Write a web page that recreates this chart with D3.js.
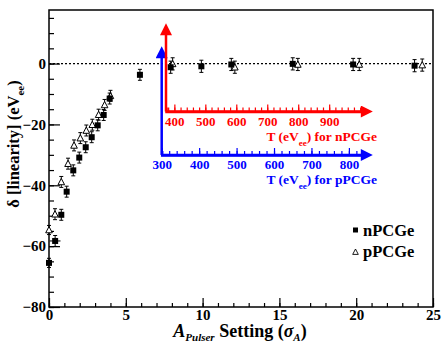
<!DOCTYPE html>
<html>
<head>
<meta charset="utf-8">
<script src="https://cdn.jsdelivr.net/npm/d3@7"></script>
<style>
  body { margin: 0; background: #fff; }
  svg { font-family: "Liberation Serif", "Times New Roman", serif; font-weight: bold; }
</style>
</head>
<body>
<svg id="chart" width="447" height="346"></svg>
<script>
// nPCGe (filled squares)
const nX = [0, 0.4, 0.8, 1.15, 1.58, 1.97, 2.39, 2.78, 3.17, 3.56, 3.95, 5.92, 7.92, 9.92, 11.87, 15.87, 19.8, 23.8];
const nY = [-65.5, -58.3, -49.7, -42.1, -35.1, -30.9, -27.5, -24.2, -20.3, -16.9, -11.5, -3.7, -1.2, -0.9, -0.3, -0.1, -0.3, -0.7];
const nErr = [1.5, 1.8, 1.8, 1.8, 1.8, 1.8, 1.8, 1.8, 1.8, 1.8, 1.8, 1.8, 2, 2, 2, 2, 2, 2];
const nXErr = [0.1, 0.35, 0.15, 0.1, 0.1, 0.1, 0.1, 0.1, 0.1, 0.1, 0.1, 0.1, 0.15, 0.1, 0.15, 0.15, 0.15, 0.15];

// pPCGe (open triangles)
const pX = [0, 0.39, 0.8, 1.24, 1.63, 2.04, 2.43, 2.82, 3.23, 3.62, 4.0, 8.05, 12.1, 16.2, 20.2, 24.3];
const pY = [-54.7, -49.5, -38.9, -32.9, -26.9, -24.5, -22.0, -20.1, -16.8, -13.6, -10.6, -0.1, -1.2, -0.3, -0.3, -0.5];
const pErr = [1.5, 1.8, 1.8, 1.8, 1.8, 1.8, 1.8, 1.8, 1.8, 1.8, 1.8, 2, 2, 2, 2, 2];

const xTicks = [0, 5, 10, 15, 20, 25];
const yTicks = [-80, -60, -40, -20, 0];
const redTicks = [400, 500, 600, 700, 800, 900];
const blueTicks = [300, 400, 500, 600, 700, 800];

const svg = d3.select("#chart");
const margin = { top: 10, right: 14, bottom: 39, left: 49 };
const W = 447 - margin.left - margin.right;
const H = 346 - margin.top - margin.bottom;

const x = d3.scaleLinear().domain([0, 25]).range([0, W]);
const y = d3.scaleLinear().domain([-80, 17.6]).range([H, 0]);

const g = svg.append("g").attr("transform", `translate(${margin.left},${margin.top})`);

// frame
g.append("rect").attr("width", W).attr("height", H)
  .attr("fill", "none").attr("stroke", "#000").attr("stroke-width", 1.5);

// x axis: ticks pointing inward
const xMinor = d3.range(0, 25.01, 1);
g.append("g").attr("transform", `translate(0,${H})`)
  .call(d3.axisBottom(x).tickValues(xMinor).tickSize(-4).tickFormat(""))
  .call(a => a.select(".domain").remove());
g.append("g").attr("transform", `translate(0,${H})`)
  .call(d3.axisBottom(x).tickValues(xTicks).tickSize(-9).tickPadding(2).tickFormat(d3.format("d")))
  .call(a => a.select(".domain").remove())
  .call(a => a.selectAll("text").attr("font-size", 15).attr("font-family", "Liberation Serif").attr("font-weight", "bold"));

// y axis
const yMinor = d3.range(-80, 17, 5);
g.append("g")
  .call(d3.axisLeft(y).tickValues(yMinor).tickSize(-5).tickFormat(""))
  .call(a => a.select(".domain").remove());
g.append("g")
  .call(d3.axisLeft(y).tickValues(yTicks).tickSize(-11).tickPadding(3).tickFormat(d3.format("d")))
  .call(a => a.select(".domain").remove())
  .call(a => a.selectAll("text").attr("font-size", 15).attr("font-family", "Liberation Serif").attr("font-weight", "bold"));
g.selectAll(".tick line").attr("stroke-width", 1.2);

// zero line
g.append("line")
  .attr("x1", x(0)).attr("x2", x(25)).attr("y1", y(0)).attr("y2", y(0))
  .attr("stroke", "#000").attr("stroke-dasharray", "2,2").attr("stroke-width", 1.2);

// inset energy axes
svg.append("defs").selectAll("marker")
  .data([["red", "#ff0000"], ["blue", "#0000ff"]])
  .join("marker")
  .attr("id", d => "arr-" + d[0])
  .attr("viewBox", "0 0 10 10").attr("refX", 1).attr("refY", 5)
  .attr("markerWidth", 14).attr("markerHeight", 12)
  .attr("markerUnits", "userSpaceOnUse")
  .attr("orient", "auto")
  .append("path").attr("d", "M0,0L10,5L0,10Z").attr("fill", d => d[1]);

function energyAxis(scale, ticks, yPos, topY, color, name, key) {
  const [x0, x1] = scale.range();
  const ax = svg.append("g").attr("transform", `translate(0,${yPos})`);
  const minor = d3.range(Math.ceil(scale.domain()[0] / 20) * 20, scale.domain()[1], 20);
  ax.call(d3.axisBottom(scale).tickValues(minor).tickSize(-4).tickFormat(""));
  ax.append("g").call(d3.axisBottom(scale).tickValues(ticks).tickSize(-7).tickPadding(5).tickFormat(d3.format("d")))
    .call(a => a.select(".domain").remove());
  ax.selectAll(".domain").attr("stroke", color).attr("stroke-width", 2.5);
  ax.selectAll(".tick line").attr("stroke", color).attr("stroke-width", 1.2);
  ax.selectAll("text").attr("fill", color).attr("font-size", 13)
    .attr("font-family", "Liberation Serif").attr("font-weight", "bold");
  // horizontal arrow
  svg.append("line").attr("x1", x0).attr("x2", x1).attr("y1", yPos).attr("y2", yPos)
    .attr("stroke", color).attr("stroke-width", 2.5).attr("marker-end", `url(#arr-${key})`);
  // vertical arrow
  svg.append("line").attr("x1", x0).attr("x2", x0).attr("y1", yPos).attr("y2", topY + 12)
    .attr("stroke", color).attr("stroke-width", 2.5).attr("marker-end", `url(#arr-${key})`);
  // title
  const t = svg.append("text").attr("x", x1 + 15).attr("y", yPos + 29)
    .attr("text-anchor", "end").attr("fill", color).attr("font-size", 13.5);
  t.append("tspan").text("T (eV");
  t.append("tspan").text("ee").attr("font-size", 9).attr("dy", 5);
  t.append("tspan").text(") for " + name).attr("dy", -5);
}

const redScale = d3.scaleLinear().domain([373, 1006]).range([166, 362]);
const blueScale = d3.scaleLinear().domain([300, 835]).range([161.7, 362]);
energyAxis(blueScale, blueTicks, 155, 45, "#0000ff", "pPCGe", "blue");
energyAxis(redScale, redTicks, 111.5, 22, "#ff0000", "nPCGe", "red");

// data points with error bars
function drawSeries(xs, ys, errs, xerrs, kind) {
  const pts = xs.map((v, i) => ({ x: v, y: ys[i], e: errs[i], xe: xerrs ? xerrs[i] : 0 }));
  const s = g.append("g");
  s.selectAll("line.ey").data(pts).join("line").attr("class", "ey")
    .attr("x1", d => x(d.x)).attr("x2", d => x(d.x))
    .attr("y1", d => y(d.y - d.e)).attr("y2", d => y(d.y + d.e))
    .attr("stroke", "#000").attr("stroke-width", 1);
  s.selectAll("line.cap").data(pts.flatMap(d => [[d, d.y - d.e], [d, d.y + d.e]])).join("line").attr("class", "cap")
    .attr("x1", d => x(d[0].x) - 2).attr("x2", d => x(d[0].x) + 2)
    .attr("y1", d => y(d[1])).attr("y2", d => y(d[1]))
    .attr("stroke", "#000").attr("stroke-width", 1);
  s.selectAll("line.ex").data(pts.filter(d => d.xe > 0)).join("line").attr("class", "ex")
    .attr("x1", d => x(d.x - d.xe)).attr("x2", d => x(d.x + d.xe))
    .attr("y1", d => y(d.y)).attr("y2", d => y(d.y))
    .attr("stroke", "#000").attr("stroke-width", 1);
  if (kind === "square") {
    s.selectAll("rect").data(pts).join("rect")
      .attr("x", d => x(d.x) - 3).attr("y", d => y(d.y) - 3)
      .attr("width", 6).attr("height", 6).attr("fill", "#000");
  } else {
    s.selectAll("path.tri").data(pts).join("path").attr("class", "tri")
      .attr("transform", d => `translate(${x(d.x)},${y(d.y)})`)
      .attr("d", "M0,-3.5L3.3,2.8L-3.3,2.8Z")
      .attr("fill", "#fff").attr("stroke", "#000").attr("stroke-width", 1);
  }
}
drawSeries(pX, pY, pErr, null, "tri");
drawSeries(nX, nY, nErr, nXErr, "square");

// legend
const leg = svg.append("g").attr("font-size", 16.5);
leg.append("rect").attr("x", 353).attr("y", 227.5).attr("width", 5).attr("height", 5).attr("fill", "#000");
leg.append("text").attr("x", 363).attr("y", 236).text("nPCGe");
leg.append("path").attr("transform", "translate(355.5,252)").attr("d", "M0,-3L2.8,2.4L-2.8,2.4Z")
  .attr("fill", "#fff").attr("stroke", "#000").attr("stroke-width", 0.9);
leg.append("text").attr("x", 363).attr("y", 257).text("pPCGe");

// axis titles
const xt = svg.append("text").attr("x", 240).attr("y", 337).attr("text-anchor", "middle").attr("font-size", 18);
xt.append("tspan").text("A").attr("font-style", "italic");
xt.append("tspan").text("Pulser").attr("font-size", 11).attr("font-style", "italic").attr("dy", 3.5);
xt.append("tspan").text(" Setting (").attr("dy", -3.5);
xt.append("tspan").text("σ").attr("font-style", "italic");
xt.append("tspan").text("A").attr("font-size", 11).attr("font-style", "italic").attr("dy", 3.5);
xt.append("tspan").text(")").attr("dy", -3.5);

const yt = svg.append("text").attr("transform", "translate(19,144) rotate(-90)")
  .attr("text-anchor", "middle").attr("font-size", 16.5);
yt.append("tspan").text("δ [linearity] (eV");
yt.append("tspan").text("ee").attr("font-size", 11).attr("dy", 5);
yt.append("tspan").text(")").attr("dy", -5);
</script>
</body>
</html>
